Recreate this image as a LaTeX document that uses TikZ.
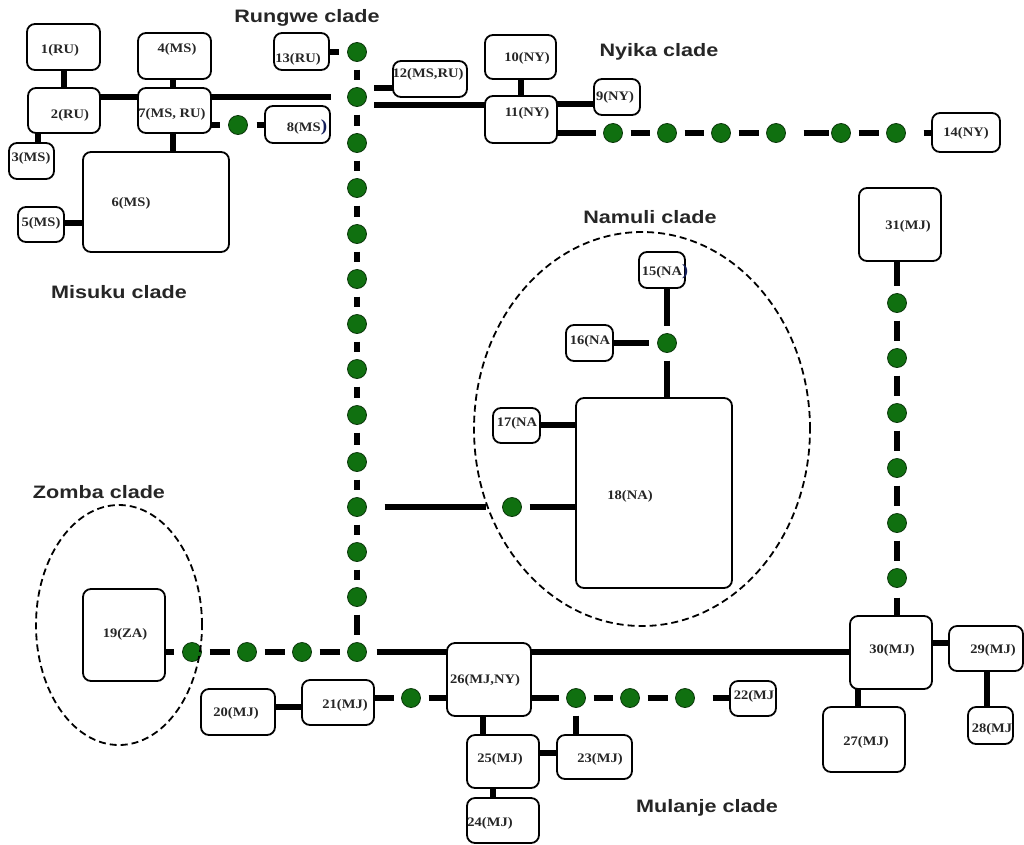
\documentclass[tikz,border=0pt]{standalone}
\usepackage{fontspec}
\usetikzlibrary{shapes.geometric}
\newfontfamily\lblfont[FakeStretch=1.12]{Liberation Serif}
\newfontfamily\cladefont[FakeStretch=1.2]{Liberation Sans}
\definecolor{dotgreen}{RGB}{16,112,16}
\definecolor{dotedge}{RGB}{10,55,10}
\definecolor{navy}{RGB}{20,30,90}
\pgfdeclarelayer{bg}
\pgfsetlayers{bg,main}
% box: name, x1, y1, x2, y2, text x, text y, text
\newcommand\bx[8]{%
  \node[box, minimum width={(#4)-(#2)}, minimum height={(#5)-(#3)}] (#1) at ({((#2)+(#4))/2},{((#3)+(#5))/2}) {};
  \node[lbl] (#1t) at (#6,#7) {#8};}
\newcommand\gd[3]{\node[gdot] (#1) at (#2,#3) {};}
\begin{document}
\begin{tikzpicture}[x=1pt,y=-1pt,
  box/.style={draw, line width=1.8pt, rounded corners=8pt, fill=white, inner sep=0pt, outer sep=0pt},
  lbl/.style={font=\lblfont\bfseries\fontsize{13}{13}\selectfont, inner sep=0pt, text=black!85},
  lk/.style={line width=6pt},
  gdot/.style={circle, fill=dotgreen, draw=dotedge, line width=0.8pt, minimum size=19pt, inner sep=0pt, outer sep=0pt},
  clade/.style={font=\cladefont\bfseries\fontsize{18}{18}\selectfont, text=black!85, inner sep=0pt},
  ring/.style={ellipse, draw, line width=1.8pt, dash pattern=on 7pt off 4pt, inner sep=0pt, outer sep=0pt}]
\useasboundingbox (0,0) rectangle (1024,844);

% clade labels
\node[clade] (lrungwe) at (307,18) {Rungwe clade};
\node[clade] (lnyika) at (659,52) {Nyika clade};
\node[clade] (lmisuku) at (119,292) {Misuku clade};
\node[clade] (lnamuli) at (650,217) {Namuli clade};
\node[clade] (lzomba) at (99,492) {Zomba clade};
\node[clade] (lmulanje) at (707,808) {Mulanje clade};

% Namuli ring
\node[ring, minimum width=336pt, minimum height=394pt] (namuli) at (642,429) {};

% boxes
\bx{n1}{27}{24}{100}{70}{60}{50}{1(RU)}
\bx{n2}{28}{88}{100}{133}{70}{115}{2(RU)}
\bx{n3}{9}{143}{54}{179}{31}{158}{3(MS)}
\bx{n4}{138}{33}{211}{79}{177}{49}{4(MS)}
\bx{n7}{138}{88}{211}{133}{172}{114}{7(MS, RU)}
\bx{n6}{83}{152}{229}{252}{131}{203}{6(MS)}
\bx{n5}{18}{207}{64}{242}{41}{223}{5(MS)}
\bx{n8}{265}{106}{330}{143}{307}{127}{8(MS{\color{navy}\fontsize{17}{13}\selectfont)}}
\bx{n13}{274}{33}{329}{70}{298}{59}{13(RU)}
\bx{n12}{393}{61}{467}{97}{428}{74}{12(MS,RU)}
\bx{n10}{485}{35}{556}{79}{527}{58}{10(NY)}
\bx{n11}{485}{96}{557}{143}{527}{113}{11(NY)}
\bx{n9}{594}{79}{640}{115}{615}{97}{9(NY)}
\bx{n14}{932}{113}{1000}{152}{966}{133}{14(NY)}
\bx{n15}{639}{252}{685}{288}{665}{272}{15(NA{\color{navy}\fontsize{16}{13}\selectfont)}}
\bx{n16}{566}{325}{613}{361}{590}{341}{16(NA}
\bx{n17}{493}{408}{540}{443}{517}{423}{17(NA}
\bx{n18}{576}{398}{732}{588}{630}{496}{18(NA)}
\bx{n19}{83}{589}{165}{681}{125}{634}{19(ZA)}
\bx{n20}{201}{689}{275}{735}{236}{713}{20(MJ)}
\bx{n21}{302}{680}{374}{725}{345}{705}{21(MJ)}
\bx{n22}{730}{681}{776}{716}{754}{696}{22(MJ}
\bx{n26}{447}{643}{531}{716}{485}{680}{26(MJ,NY)}
\bx{n25}{467}{735}{539}{788}{500}{759}{25(MJ)}
\bx{n23}{557}{735}{632}{779}{600}{759}{23(MJ)}
\bx{n24}{467}{798}{539}{843}{490}{823}{24(MJ)}
\bx{n27}{823}{707}{905}{772}{866}{742}{27(MJ)}
\bx{n28}{968}{707}{1013}{744}{992}{729}{28(MJ}
\bx{n29}{949}{626}{1023}{671}{993}{650}{29(MJ)}
\bx{n30}{850}{616}{932}{689}{892}{650}{30(MJ)}
\bx{n31}{859}{188}{941}{261}{908}{226}{31(MJ)}

% dots: Rungwe vertical
\gd{r1}{357}{52}\gd{r2}{357}{97}\gd{r3}{357}{143}\gd{r4}{357}{188}
\gd{r5}{357}{234}\gd{r6}{357}{279}\gd{r7}{357}{324}\gd{r8}{357}{369}
\gd{r9}{357}{415}\gd{r10}{357}{462}\gd{r11}{357}{507}\gd{r12}{357}{552}
\gd{r13}{357}{597}\gd{r14}{357}{652}
% Misuku
\gd{m1}{238}{125}
% Nyika
\gd{y1}{613}{133}\gd{y2}{667}{133}\gd{y3}{721}{133}\gd{y4}{776}{133}
\gd{y5}{841}{133}\gd{y6}{896}{133}
% Namuli
\gd{a1}{667}{343}\gd{a2}{512}{507}
% Zomba
\gd{z1}{192}{652}\gd{z2}{247}{652}\gd{z3}{302}{652}
% Mulanje row
\gd{u1}{411}{698}\gd{u2}{576}{698}\gd{u3}{630}{698}\gd{u4}{685}{698}
% right vertical
\gd{v1}{897}{303}\gd{v2}{897}{358}\gd{v3}{897}{413}\gd{v4}{897}{468}
\gd{v5}{897}{523}\gd{v6}{897}{578}

% Zomba ring (over the dot)
\node[ring, minimum width=166pt, minimum height=240pt] (zomba) at (119,625) {};

\begin{pgfonlayer}{bg}
% Misuku
\draw[lk] (n1.south) -- (n1.south |- n2.north);
\draw[lk] (n2.east |- 0,97) -- (n7.west |- 0,97);
\draw[lk] (n2.south -| 38,0) -- (n3.north -| 38,0);
\draw[lk] (n4.south -| 173,0) -- (n7.north -| 173,0);
\draw[lk] (n7.south -| 173,0) -- (n6.north -| 173,0);
\draw[lk] (n5.east |- 0,223) -- (n6.west |- 0,223);
\draw[lk, shorten >=17pt] (n7.east |- r2) -- (r2);
\draw[lk, shorten >=9pt] (n7.east |- m1) -- (m1);
\draw[lk, shorten <=9pt] (m1) -- (n8.west |- m1);
% Rungwe
\draw[lk, shorten >=9pt] (n13.east |- r1) -- (r1);
\foreach \a/\b in {r1/r2,r2/r3,r3/r4,r4/r5,r5/r6,r6/r7,r7/r8,r8/r9,r9/r10,r10/r11,r11/r12,r12/r13,r13/r14}
  \draw[lk, shorten <=8pt, shorten >=8pt] (\a) -- (\b);
\draw[lk] ([shift={(17,-9)}]r2.center) -- (n12.west |- 0,88);
\draw[lk] ([shift={(17,8)}]r2.center) -- (n11.west |- 0,105);
% Nyika
\draw[lk] (n10.south -| 521,0) -- (n11.north -| 521,0);
\draw[lk] (n11.east |- 0,104) -- (n9.west |- 0,104);
\draw[lk, shorten >=8pt] (n11.east |- y1) -- (y1);
\foreach \a/\b in {y1/y2,y2/y3,y3/y4,y5/y6}
  \draw[lk, shorten <=8pt, shorten >=8pt] (\a) -- (\b);
\draw[lk, shorten <=18pt, shorten >=3pt] (y4) -- (y5);
\draw[lk, shorten <=18pt] (y6) -- (n14.west |- y6);
% Namuli
\draw[lk, shorten <=18pt, shorten >=17pt] (r11) -- (a2);
\draw[lk, shorten <=8pt] (a2) -- (n18.west |- a2);
\draw[lk] (n17.east |- 0,425) -- (n18.west |- 0,425);
\draw[lk, shorten >=9pt] (n16.east |- a1) -- (a1);
\draw[lk, shorten >=8pt] (a1 |- n15.south) -- (a1);
\draw[lk, shorten <=8pt] (a1) -- (a1 |- n18.north);
% Zomba
\draw[lk, shorten >=9pt] (n19.east |- z1) -- (z1);
\foreach \a/\b in {z1/z2,z2/z3,z3/r14}
  \draw[lk, shorten <=8pt, shorten >=8pt] (\a) -- (\b);
\draw[lk, shorten <=10pt] (r14) -- (n26.west |- r14);
\draw[lk] (n26.east |- r14) -- (n30.west |- r14);
% Mulanje
\draw[lk] (n20.east |- 0,707) -- (n21.west |- 0,707);
\draw[lk, shorten >=8pt] (n21.east |- u1) -- (u1);
\draw[lk, shorten <=8pt] (u1) -- (n26.west |- u1);
\draw[lk, shorten >=8pt] (n26.east |- u2) -- (u2);
\foreach \a/\b in {u2/u3,u3/u4}
  \draw[lk, shorten <=8pt, shorten >=8pt] (\a) -- (\b);
\draw[lk, shorten <=18pt] (u4) -- (n22.west |- u4);
\draw[lk, shorten <=8pt] (u2) -- (u2 |- n23.north);
\draw[lk] (n26.south -| 483,0) -- (n25.north -| 483,0);
\draw[lk] (n25.east |- 0,753) -- (n23.west |- 0,753);
\draw[lk] (n25.south -| 493,0) -- (n24.north -| 493,0);
\draw[lk] (n30.south -| 858,0) -- (n27.north -| 858,0);
\draw[lk] (n30.east |- 0,643) -- (n29.west |- 0,643);
\draw[lk] (n29.south -| 987,0) -- (n28.north -| 987,0);
\draw[lk, shorten >=8pt] (v1 |- n31.south) -- (v1);
\foreach \a/\b in {v1/v2,v2/v3,v3/v4,v4/v5,v5/v6}
  \draw[lk, shorten <=8pt, shorten >=8pt] (\a) -- (\b);
\draw[lk, shorten <=10pt] (v6) -- (v6 |- n30.north);
\end{pgfonlayer}
\end{tikzpicture}
\end{document}
